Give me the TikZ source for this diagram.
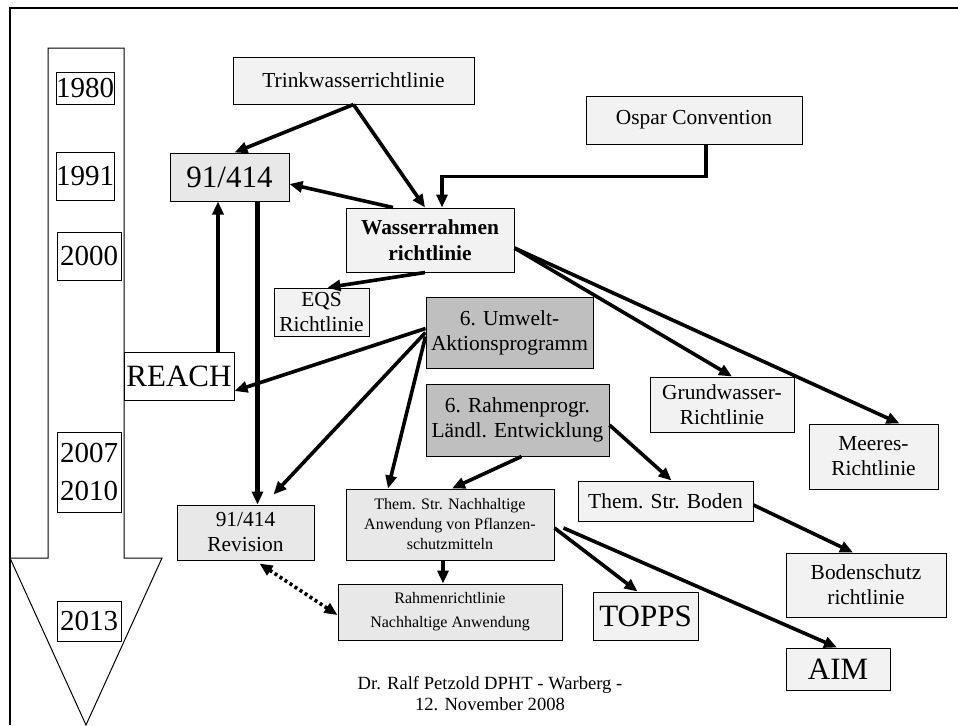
\documentclass[tikz,border=0pt]{standalone}
\usepackage{fontspec}
\setmainfont{Liberation Serif}
\usepackage{tikz}
\usetikzlibrary{arrows.meta}

\tikzset{
  box/.style={draw, line width=0.5pt, fill=gray!10, inner sep=0pt, align=center, font=\fontsize{10.7}{12.5}\selectfont},
  midbox/.style={box, fill=gray!18},
  darkbox/.style={box, fill=gray!50},
  yearbox/.style={draw, line width=0.5pt, fill=white, inner sep=0pt, align=center, font=\fontsize{14.5}{19}\selectfont},
  big/.style={font=\fontsize{15.5}{18}\selectfont},
  small/.style={font=\fontsize{8}{10}\selectfont},
  conn/.style={line width=1.8pt, -{Triangle[length=6.5pt,width=5.5pt]}},
}

\begin{document}
\begin{tikzpicture}[x=0.5pt, y=-0.5pt]
        \useasboundingbox (0,0) rectangle (958,725);

        % Timeline arrow and frame
        \draw[line width=0.5pt, fill=white] (48,48) -- (124,48) -- (124,558) -- (162,558)
            -- (86,725) -- (10,558) -- (48,558) -- cycle;
        \draw[line width=1.2pt] (10,725) -- (10,8) -- (958,8);

        % Years
        \node[yearbox, minimum width=28pt, minimum height=16pt] (y1980) at (85,88) {1980};
        \node[yearbox, minimum width=28pt, minimum height=24pt] (y1991) at (85,176) {1991};
        \node[yearbox, minimum width=32pt, minimum height=24pt] (y2000) at (89,256) {2000};
        \node[yearbox, minimum width=32pt, minimum height=40pt] (y2007) at (89,472) {2007\\2010};
        \node[yearbox, minimum width=32pt, minimum height=20pt] (y2013) at (89,621) {2013};

        % Directives
        \node[box, minimum width=120.5pt, minimum height=23.5pt] (trink) at (353.5,80.5) {Trinkwasserrichtlinie};
        \node[box, minimum width=108pt, minimum height=24pt] (ospar) at (694,120) {Ospar Convention};
        \node[midbox, big, minimum width=59.5pt, minimum height=24pt] (dir91) at (229.5,177) {91/414};
        \node[box, font=\fontsize{10.7}{13}\selectfont\bfseries, minimum width=84pt, minimum height=32pt] (wrrl) at (430,240) {Wasserrahmen\\richtlinie};
        \node[box, minimum width=47.5pt, minimum height=24pt] (eqs) at (321.5,312) {EQS\\Richtlinie};
        \node[darkbox, minimum width=83.5pt, minimum height=35.5pt] (uap) at (509.5,332.5) {6. Umwelt-\\Aktionsprogramm};
        \node[darkbox, minimum width=91.5pt, minimum height=36pt] (rahmen6) at (517.5,420) {6. Rahmenprogr.\\Ländl. Entwicklung};
        \node[box, big, fill=white, minimum width=55pt, minimum height=24pt] (reach) at (179,376) {REACH};
        \node[midbox, minimum width=68.5pt, minimum height=27.5pt] (rev) at (245.5,532.5) {91/414\\Revision};
        \node[midbox, small, minimum width=104pt, minimum height=35.5pt] (themp) at (450,524.5) {Them. Str. Nachhaltige\\Anwendung von Pflanzen-\\schutzmitteln};
        \node[midbox, font=\fontsize{8}{12}\selectfont, minimum width=112pt, minimum height=28pt] (rrl) at (450,612) {Rahmenrichtlinie\\Nachhaltige Anwendung};
        \node[box, big, minimum width=52.5pt, minimum height=24pt] (topps) at (645.5,616) {TOPPS};
        \node[box, big, minimum width=52pt, minimum height=21pt] (aim) at (838,669) {AIM};
        \node[box, minimum width=80pt, minimum height=32pt] (boden) at (866,585) {Bodenschutz\\richtlinie};
        \node[box, minimum width=72pt, minimum height=27.5pt] (grund) at (722,404.5) {Grundwasser-\\Richtlinie};
        \node[box, minimum width=64.5pt, minimum height=32.5pt] (meeres) at (873.5,456.5) {Meeres-\\Richtlinie};
        \node[box, minimum width=87.5pt, minimum height=20pt] (bodenst) at (665.5,501) {Them. Str. Boden};

        % Footer
        \node[inner sep=0pt, align=center, font=\fontsize{9.3}{10.5}\selectfont] (footer) at (490,694)
            {Dr. Ralf Petzold DPHT - Warberg -\\12. November 2008};

        % Arrows
        \draw[conn] (trink.south) -- ([xshift=2.5pt]dir91.north);
        \draw[conn] (trink.south) -- ([xshift=-2.5pt]wrrl.north);
        \draw[conn] ([xshift=6pt]ospar.south) -- ++(0,32) -| ([xshift=6pt]wrrl.north);
        \draw[conn] ([xshift=-18.5pt]wrrl.north) -- ([yshift=-3.5pt]dir91.east);
        \draw[conn] ([xshift=-2.5pt]wrrl.south) -- ([xshift=3pt]eqs.north);
        \draw[conn] ([yshift=-4pt]wrrl.east) -- ([xshift=5pt]grund.north);
        \draw[conn] ([yshift=-4pt]wrrl.east) -- ([xshift=13pt]meeres.north);
        \draw[conn, line width=2.1pt] ([xshift=14pt]dir91.south) -- ([xshift=14pt]dir91.south |- rev.north);
        \draw[conn] ([xshift=19.5pt]reach.north) -- ([xshift=19.5pt]reach.north |- dir91.south);
        \draw[conn] ([yshift=2pt]uap.west) -- ([yshift=-7.5pt]reach.east);
        \draw[conn] (uap.west) -- ([xshift=14pt,yshift=5pt]rev.north);
        \draw[conn] ([yshift=-2pt]uap.west) -- ([xshift=-31pt]themp.north);
        \draw[conn] ([xshift=2pt]rahmen6.south) -- ([xshift=1pt]themp.north);
        \draw[conn] ([yshift=-2.5pt]rahmen6.east) -- ([xshift=3pt]bodenst.north);
        \draw[conn] ([yshift=-2pt]bodenst.east) -- ([xshift=-6.5pt]boden.north);
        \draw[conn] ([yshift=-1.75pt]themp.east) -- ([xshift=-4pt]topps.north);
        \draw[conn] ([xshift=4.5pt,yshift=-1.75pt]themp.east) -- ([xshift=-0.5pt]aim.north);
        \draw[conn] ([xshift=-3.5pt]themp.south) -- ([xshift=-3.5pt]themp.south |- rrl.north);
        \draw[line width=1.8pt, dash pattern=on 1.5pt off 1.5pt, {Triangle[length=6.5pt,width=5.5pt]}-{Triangle[length=6.5pt,width=5.5pt]}]
            ([xshift=7pt,yshift=-1.5pt]rev.south) -- ([yshift=-1.5pt]rrl.west);
    \end{tikzpicture}
\end{document}
